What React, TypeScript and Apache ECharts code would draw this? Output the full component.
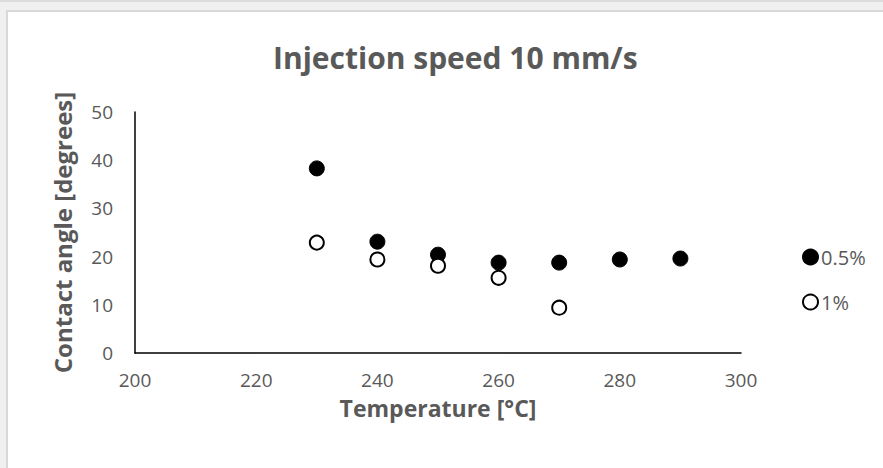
import React, { useEffect, useRef } from "react";
import * as echarts from "echarts";

const temps05 = [230, 240, 250, 260, 270, 280, 290];
const angles05 = [38.3, 23.1, 20.4, 18.75, 18.75, 19.4, 19.6];
const temps1 = [230, 240, 250, 260, 270];
const angles1 = [22.9, 19.4, 18.1, 15.6, 9.4];
const seriesNames = ["0.5%", "1%"];
const titleText = "Injection speed 10 mm/s";
const xName = "Temperature [°C]";
const yName = "Contact angle [degrees]";

const FONT = "Open Sans";
const GREY = "#595959";

export default function App() {
  const ref = useRef<HTMLDivElement>(null);
  useEffect(() => {
    if (!ref.current) return;
    const chart = echarts.init(ref.current, undefined, { renderer: "svg" });
    chart.setOption({
      animation: false,
      backgroundColor: "#f0f0f0",
      graphic: [
        {
          type: "rect",
          shape: { x: 7, y: 11, width: 900, height: 480 },
          style: { fill: "#ffffff", stroke: "#d9d9d9", lineWidth: 2 },
          z: -10,
        },
        {
          type: "line",
          shape: { x1: 0, y1: 1, x2: 883, y2: 1 },
          style: { stroke: "#dcdcdc", lineWidth: 2 },
          z: -10,
        },
      ],
      title: {
        text: titleText,
        left: 268,
        top: 37,
        textStyle: { fontFamily: FONT, fontSize: 30, fontWeight: "bold", color: GREY },
      },
      legend: {
        orient: "vertical",
        left: 797,
        top: 242,
        itemGap: 25,
        itemWidth: 15,
        itemHeight: 15,
        textStyle: { fontFamily: FONT, fontSize: 20, color: GREY, padding: [0, 0, 0, -2] },
        data: seriesNames,
      },
      grid: { left: 135, top: 112, right: 142, bottom: 115 },
      xAxis: {
        type: "value",
        min: 200,
        max: 300,
        interval: 20,
        name: xName,
        nameLocation: "middle",
        nameGap: 43,
        nameTextStyle: { fontFamily: FONT, fontSize: 23, fontWeight: "bold", color: GREY },
        axisLine: { onZero: false, lineStyle: { color: "#000", width: 1.5 } },
        axisTick: { show: false },
        splitLine: { show: false },
        axisLabel: { fontFamily: FONT, fontSize: 19, color: GREY, margin: 17 },
      },
      yAxis: {
        type: "value",
        min: 0,
        max: 50,
        interval: 10,
        name: yName,
        nameLocation: "middle",
        nameGap: 61,
        nameTextStyle: { fontFamily: FONT, fontSize: 24, fontWeight: "bold", color: GREY },
        axisLine: { show: true, lineStyle: { color: "#000", width: 1.5 } },
        axisTick: { show: false },
        splitLine: { show: false },
        axisLabel: { fontFamily: FONT, fontSize: 19, color: GREY, margin: 22 },
      },
      series: [
        {
          name: seriesNames[0],
          type: "scatter",
          symbol: "circle",
          symbolSize: 15,
          itemStyle: { color: "#000", borderColor: "#000", borderWidth: 1, opacity: 1 },
          data: temps05.map((t, i) => [t, angles05[i]]),
        },
        {
          name: seriesNames[1],
          type: "scatter",
          symbol: "circle",
          symbolSize: 14,
          itemStyle: { color: "#fff", borderColor: "#000", borderWidth: 2, opacity: 1 },
          data: temps1.map((t, i) => [t, angles1[i]]),
        },
      ],
    });
    return () => chart.dispose();
  }, []);
  return (
    <div
      ref={ref}
      style={{ position: "fixed", left: 0, top: 0, width: 883, height: 468 }}
    />
  );
}
